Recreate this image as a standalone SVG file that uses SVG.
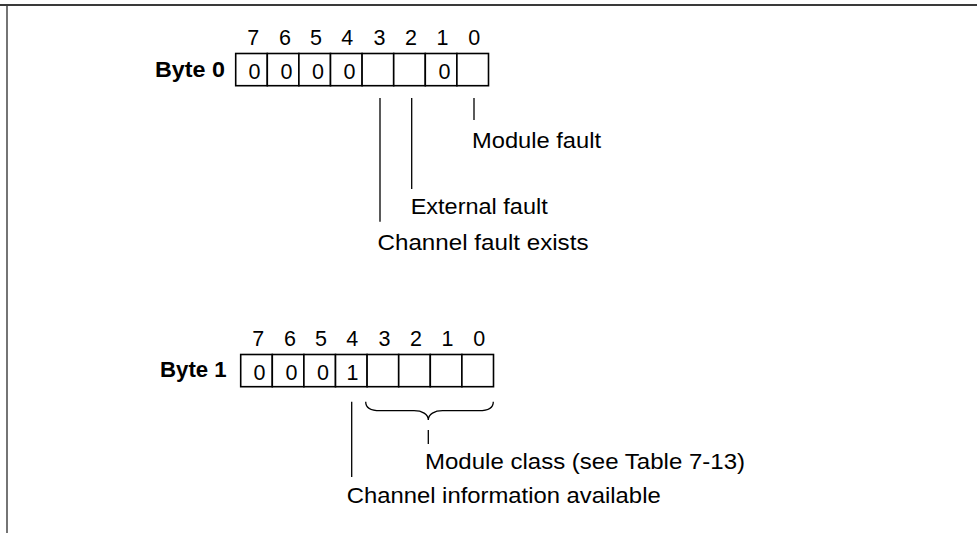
<svg xmlns="http://www.w3.org/2000/svg" width="977" height="533" viewBox="0 0 977 533">
<style>
text{font-family:"Liberation Sans",Arial,sans-serif;font-size:21.5px;fill:#000}
.b{font-weight:bold}
.d{text-anchor:middle}
.cell{fill:#fff;stroke:#000;stroke-width:1.6}
.ln{stroke:#000;stroke-width:1.3;fill:none}
.frame{stroke:#3a3a3a;fill:none}
</style>
<rect width="977" height="533" fill="#fff"/>
<line class="frame" x1="0" y1="5" x2="977" y2="5" stroke-width="2.2"/>
<line class="frame" x1="7" y1="5" x2="7" y2="533" stroke-width="1.4"/>

<g id="byte0">
  <text class="b" x="155" y="76.7" textLength="70" lengthAdjust="spacingAndGlyphs">Byte 0</text>
  <g class="cell">
    <rect x="235.7" y="53.5" width="31.6" height="32.2"/>
    <rect x="267.3" y="53.5" width="31.6" height="32.2"/>
    <rect x="298.9" y="53.5" width="31.6" height="32.2"/>
    <rect x="330.5" y="53.5" width="31.6" height="32.2"/>
    <rect x="362.1" y="53.5" width="31.6" height="32.2"/>
    <rect x="393.7" y="53.5" width="31.6" height="32.2"/>
    <rect x="425.3" y="53.5" width="31.6" height="32.2"/>
    <rect x="456.9" y="53.5" width="31.6" height="32.2"/>
  </g>
  <g class="d">
    <text x="253.3" y="44.7">7</text>
    <text x="284.9" y="44.7">6</text>
    <text x="315.9" y="44.7">5</text>
    <text x="347.3" y="44.7">4</text>
    <text x="379.4" y="44.7">3</text>
    <text x="411" y="44.7">2</text>
    <text x="442.6" y="44.7">1</text>
    <text x="474.2" y="44.7">0</text>
  </g>
  <g class="d">
    <text x="254.6" y="79.3">0</text>
    <text x="286.6" y="79.3">0</text>
    <text x="318" y="79.3">0</text>
    <text x="349.6" y="79.3">0</text>
    <text x="444.4" y="79.3">0</text>
  </g>
</g>

<g id="byte1">
  <text class="b" x="160" y="376.7" textLength="66.7" lengthAdjust="spacingAndGlyphs">Byte 1</text>
  <g class="cell">
    <rect x="240.7" y="354.5" width="31.6" height="32.2"/>
    <rect x="272.3" y="354.5" width="31.6" height="32.2"/>
    <rect x="303.9" y="354.5" width="31.6" height="32.2"/>
    <rect x="335.5" y="354.5" width="31.6" height="32.2"/>
    <rect x="367.1" y="354.5" width="31.6" height="32.2"/>
    <rect x="398.7" y="354.5" width="31.6" height="32.2"/>
    <rect x="430.3" y="354.5" width="31.6" height="32.2"/>
    <rect x="461.9" y="354.5" width="31.6" height="32.2"/>
  </g>
  <g class="d">
    <text x="258.3" y="345.7">7</text>
    <text x="289.9" y="345.7">6</text>
    <text x="320.9" y="345.7">5</text>
    <text x="352.3" y="345.7">4</text>
    <text x="384.4" y="345.7">3</text>
    <text x="416" y="345.7">2</text>
    <text x="447.6" y="345.7">1</text>
    <text x="479.2" y="345.7">0</text>
  </g>
  <g class="d">
    <text x="259.6" y="380.3">0</text>
    <text x="291.6" y="380.3">0</text>
    <text x="323" y="380.3">0</text>
    <text x="352.6" y="380.3">1</text>
  </g>
</g>

<g id="connectors">
  <line class="ln" x1="380" y1="98" x2="380" y2="221.7"/>
  <line class="ln" x1="411.7" y1="98" x2="411.7" y2="189"/>
  <line class="ln" x1="474" y1="98" x2="474" y2="120"/>
  <line class="ln" x1="351.7" y1="401.7" x2="351.7" y2="477"/>
  <path class="ln" d="M365.7,401.7 C365.7,408 372,410.7 380,410.7 L414,410.7 C422,410.7 428.3,414 428.3,420 C428.3,414 434.6,410.7 442.6,410.7 L479,410.7 C487,410.7 493.3,408 493.3,401.7"/>
  <line class="ln" x1="428.3" y1="430" x2="428.3" y2="444"/>
</g>

<g id="labels">
  <text x="472" y="148.3" textLength="129" lengthAdjust="spacingAndGlyphs">Module fault</text>
  <text x="410.7" y="214.3" textLength="137" lengthAdjust="spacingAndGlyphs">External fault</text>
  <text x="377.5" y="249.5" textLength="211" lengthAdjust="spacingAndGlyphs">Channel fault exists</text>
  <text x="425" y="469.3" textLength="320" lengthAdjust="spacingAndGlyphs">Module class (see Table 7-13)</text>
  <text x="346.7" y="503.3" textLength="314" lengthAdjust="spacingAndGlyphs">Channel information available</text>
</g>
</svg>
